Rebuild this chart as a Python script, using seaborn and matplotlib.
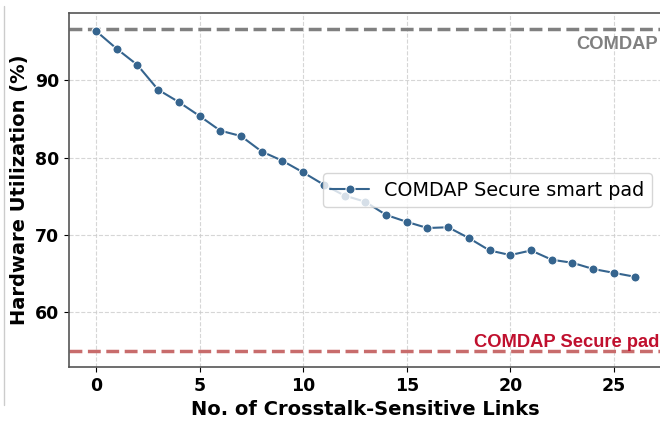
import seaborn as sns
import matplotlib.pyplot as plt
from matplotlib.lines import Line2D

# data
links = list(range(27))
utilization = [96.4, 94.1, 92.0, 88.8, 87.2, 85.4, 83.5, 82.8, 80.8, 79.6,
               78.1, 76.5, 75.1, 74.3, 72.6, 71.7, 70.9, 71.0, 69.6, 68.0,
               67.4, 68.0, 66.8, 66.4, 65.6, 65.1, 64.6]
comdap_level = 96.6
secure_pad_level = 55.0
series_label = "COMDAP Secure smart pad"

sns.set_style("ticks")
plt.rcParams["font.family"] = ["DejaVu Sans"]
plt.rcParams["text.color"] = "black"
plt.rcParams["axes.labelcolor"] = "black"
plt.rcParams["xtick.color"] = "black"
plt.rcParams["ytick.color"] = "black"

fig = plt.figure(figsize=(6.6, 4.22), dpi=100)
ax = fig.add_axes([0.1045, 0.1303, 0.8979, 0.8382])

ax.axhline(comdap_level, color="gray", linestyle="--", linewidth=2.5, zorder=2)
ax.axhline(secure_pad_level, color="#c86c6c", linestyle="--",
           linewidth=2.5, zorder=2)

sns.lineplot(x=links, y=utilization, marker="o", color="#35648e",
             markersize=6.5, linewidth=1.5, label=series_label, ax=ax, zorder=3)

ax.text(0.993, 94.1, "COMDAP", transform=ax.get_yaxis_transform(),
        ha="right", va="baseline", color="gray", fontsize=13.2,
        fontweight="bold", family="Liberation Sans")
ax.text(0.996, 55.5, "COMDAP Secure pad", transform=ax.get_yaxis_transform(),
        ha="right", va="baseline", color="#c0102e", fontsize=13.2,
        fontweight="bold", family="Liberation Sans")

ax.grid(True, linestyle="--", color="#cccccc", linewidth=0.8, alpha=0.8)
ax.set_axisbelow(True)

ax.set_xlabel("No. of Crosstalk-Sensitive Links", fontsize=14, fontweight="bold")
ax.set_ylabel("Hardware Utilization (%)", fontsize=14, fontweight="bold")
ax.set_xticks([0, 5, 10, 15, 20, 25])
ax.set_yticks([60, 70, 80, 90])
ax.tick_params(labelsize=12.5)
for lab in ax.get_xticklabels() + ax.get_yticklabels():
    lab.set_fontweight("bold")

for sp in ax.spines.values():
    sp.set_color("#555555")
    sp.set_linewidth(1.2)

ax.legend(loc="center right", fontsize=13.8)

# thin border line left over on the reference's left edge
fig.add_artist(Line2D([0.006, 0.006], [0.04, 0.985], color="#cccccc", linewidth=1))

fig.savefig("out.png", dpi=100)
